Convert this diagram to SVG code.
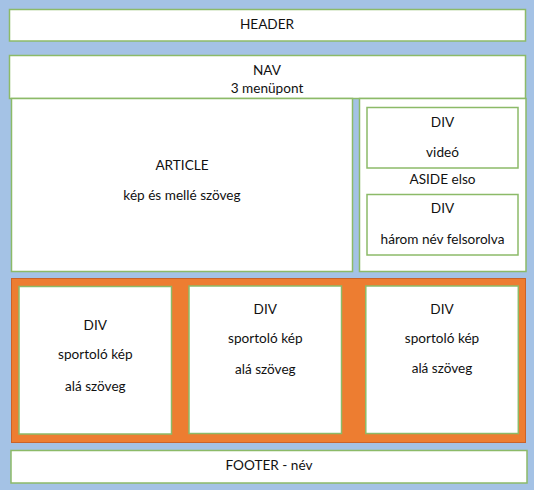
<svg xmlns="http://www.w3.org/2000/svg" width="534" height="490" viewBox="0 0 534 490">
<style>
.box{fill:#ffffff;stroke:#8cba68;stroke-width:1.5}
.orange{fill:#ed7d31;stroke:#c9632a;stroke-width:1}
text{font-family:Lato,"Open Sans","Liberation Sans",sans-serif;font-size:13.6px;fill:#111111;text-anchor:middle}
</style>
<rect x="0" y="0" width="534" height="490" fill="#a4c2e5"/>
<g id="header"><rect class="box" x="9.5" y="9.5" width="516" height="31.5"/><text x="267" y="28.5">HEADER</text></g>
<g id="nav"><rect class="box" x="9.5" y="55.5" width="516" height="43"/><text x="267" y="75">NAV</text><text x="267" y="92.7">3 menüpont</text></g>
<g id="article"><rect class="box" x="11.5" y="98.5" width="341" height="173"/><text x="182" y="169.5">ARTICLE</text><text x="182" y="200">kép és mellé szöveg</text></g>
<g id="aside"><rect class="box" x="359.5" y="98.5" width="166.5" height="173"/><text x="442.5" y="184">ASIDE elso</text></g>
<g id="aside-div1"><rect class="box" x="367" y="107.5" width="151" height="60.5"/><text x="442.5" y="126.7">DIV</text><text x="442.5" y="156.7">videó</text></g>
<g id="aside-div2"><rect class="box" x="367" y="194.5" width="151" height="60.5"/><text x="442.5" y="213.3">DIV</text><text x="442.5" y="244">három név felsorolva</text></g>
<g id="section"><rect class="orange" x="11.5" y="278.5" width="514" height="164"/></g>
<g id="div-a"><rect class="box" x="19" y="286.5" width="152.5" height="147.5"/><text x="95.3" y="330">DIV</text><text x="95.3" y="359.3">sportoló kép</text><text x="95.3" y="390.7">alá szöveg</text></g>
<g id="div-b"><rect class="box" x="189" y="286" width="152.5" height="147.5"/><text x="265.3" y="314.3">DIV</text><text x="265.3" y="343.3">sportoló kép</text><text x="265.3" y="374">alá szöveg</text></g>
<g id="div-c"><rect class="box" x="365.8" y="286" width="152.5" height="147.5"/><text x="442" y="314">DIV</text><text x="442" y="343.3">sportoló kép</text><text x="442" y="373.3">alá szöveg</text></g>
<g id="footer"><rect class="box" x="11" y="450.5" width="516" height="32.5"/><text x="269" y="470">FOOTER - név</text></g>
<g id="connectors"></g>
</svg>
